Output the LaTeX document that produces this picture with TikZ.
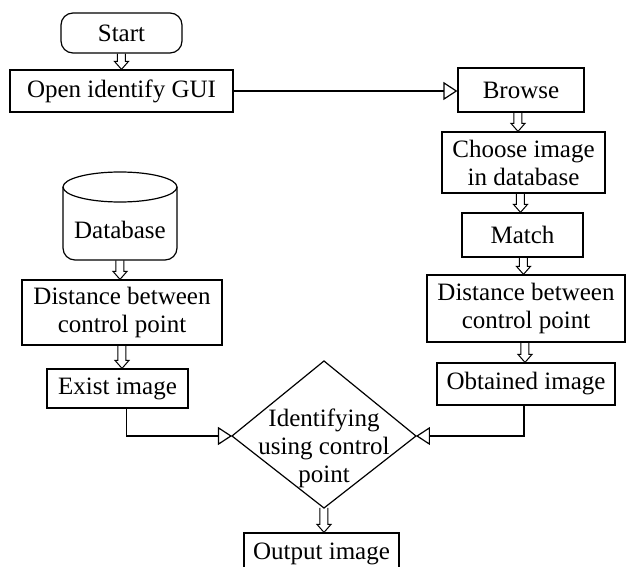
\documentclass[tikz,border=0pt]{standalone}
\usepackage{fontspec}
\setmainfont{Liberation Serif}
\usetikzlibrary{calc,arrows.meta}
\begin{document}
\begin{tikzpicture}[x=0.5pt,y=-0.5pt,
  txt/.style={inner sep=0pt, align=center, font=\fontsize{12.5}{14}\selectfont},
  box/.style={txt, draw, line width=0.6pt},
  blockarrow/.style={draw, line width=0.5pt, to path={let \p1=(\tikztostart), \p2=(\tikztotarget) in
    (\x1-2pt,\y1) -- (\x1-2pt,\y2+4pt) -- (\x1-3.5pt,\y2+4pt) -- (\x1,\y2) -- (\x1+3.5pt,\y2+4pt) -- (\x1+2pt,\y2+4pt) -- (\x1+2pt,\y1)}},
  flow/.style={draw, line width=0.6pt, -{Triangle[open,length=7pt,width=9pt]}}
]
\useasboundingbox (0,0) rectangle (629,567);
\clip (0,0) rectangle (629,567);

% left column
\node[box, rounded corners=6pt, minimum width=60.5pt, minimum height=20pt] (st) at (121.5,33) {Start};
\node[box, minimum width=111.5pt, minimum height=21pt] (op) at (121.5,91) {Open identify GUI};

\node[minimum width=57pt, minimum height=44pt, inner sep=0pt] (db) at (120,216) {};
\draw[line width=0.6pt] (120,187) ellipse [x radius=28.5pt, y radius=7.5pt];
\draw[line width=0.6pt, rounded corners=6pt] (63,187) -- (63,260) -- (177,260) -- (177,187);
\node[txt] (dbl) at (120,230) {Database};

\node[box, minimum width=100pt, minimum height=32.5pt] (dl1) at (122,312.5) {Distance between\\control point};
\node[box, minimum width=70.5pt, minimum height=19.5pt] (ex) at (117.5,388.5) {Exist image};

% right column
\node[box, minimum width=63pt, minimum height=22pt] (br) at (521,90) {Browse};
\node[box, minimum width=81.5pt, minimum height=30.5pt] (ch) at (523.5,162.5) {Choose image\\in database};
\node[box, minimum width=60.5pt, minimum height=22pt] (ma) at (522.5,235) {Match};
\node[box, minimum width=99pt, minimum height=33.5pt] (dr1) at (526,308.5) {Distance between\\control point};
\node[box, minimum width=89pt, minimum height=21pt] (ob) at (526,384) {Obtained image};

% decision
\coordinate (dt) at (324,361);
\coordinate (dl) at (232,436);
\coordinate (dr) at (416,436);
\coordinate (dbm) at (324,508);
\draw[line width=0.6pt] (dt) -- (dr) -- (dbm) -- (dl) -- cycle;
\node[txt] (dia) at (324,448) {Identifying\\using control\\point};

\node[box, minimum width=77.5pt, minimum height=21pt] (out) at (321.5,554) {Output image};

% connectors
\draw[blockarrow] (st.south) to (op.north);
\draw[blockarrow] (db.south) to (dl1.north);
\draw[blockarrow] (dl1.south) to (ex.north);
\draw[blockarrow] ([xshift=-1.5pt]br.south) to ([xshift=-1.5pt]ch.north);
\draw[blockarrow] ([xshift=-1.5pt]ch.south) to ([xshift=-1.5pt]ma.north);
\draw[blockarrow] ([xshift=0.5pt]ma.south) to ([xshift=0.5pt]dr1.north);
\draw[blockarrow] ([xshift=-0.5pt]dr1.south) to ([xshift=-0.5pt]ob.north);
\draw[blockarrow] (dbm) to (out.north -| dbm);

\draw[flow] (op.east) -- (op.east -| br.west);
\draw[flow] ([xshift=4.5pt]ex.south) |- (dl);
\draw[flow] ([xshift=-1pt]ob.south) |- (dr);
\end{tikzpicture}
\end{document}
